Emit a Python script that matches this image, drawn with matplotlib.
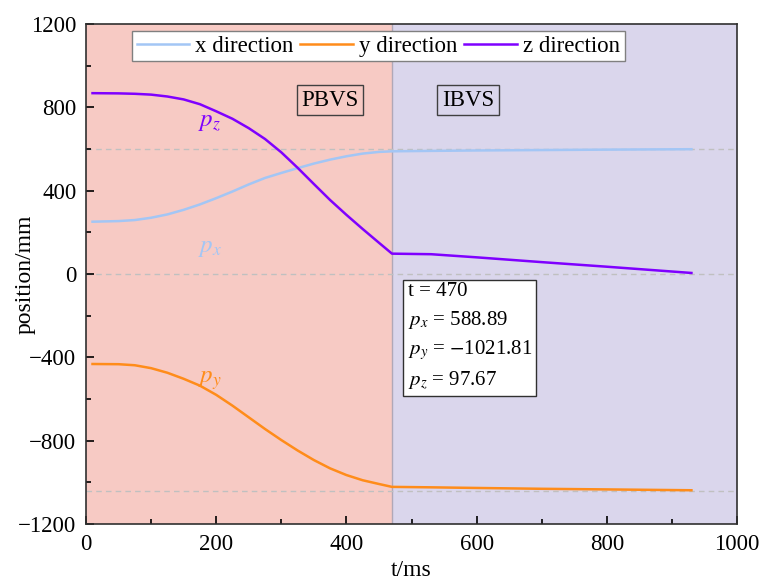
import matplotlib
matplotlib.use("Agg")
import matplotlib.pyplot as plt
from matplotlib.ticker import MultipleLocator

plt.rcParams['font.family'] = ['Liberation Serif', 'DejaVu Serif']
plt.rcParams['mathtext.fontset'] = 'stix'

# values
t_ms = [10, 50, 75, 100, 125, 150, 175, 200, 225, 250, 275, 300, 325, 350, 375,
        400, 425, 450, 470, 530, 600, 700, 800, 930]
x_pos = [251, 254, 259, 270, 286, 308, 334, 364, 396, 430, 461, 485, 508, 530, 549,
         565, 578, 586, 588.89, 591, 593, 595, 597, 599]
y_pos = [-432, -433, -438, -452, -474, -503, -536, -580, -632, -688, -744, -797, -847, -893, -933,
         -965, -990, -1008, -1021.81, -1024, -1027, -1031, -1034, -1038]
z_pos = [868, 867, 865, 861, 852, 838, 815, 781, 745, 700, 648, 584, 510, 432, 355,
         284, 216, 150, 97.67, 95, 80, 57, 35, 5]

t_switch = 470
ref_levels = [600, 0, -1040]

c_x = '#a3c6f5'
c_y = '#ff8c1a'
c_z = '#7f00ff'
bg_pbvs = '#f7cac4'
bg_ibvs = '#dad6ec'

fig = plt.figure(figsize=(7.61, 5.81), dpi=100)
ax = fig.add_axes([86/761, 1-524/581, (737-86)/761, (524-24)/581])

ax.axvspan(0, t_switch, color=bg_pbvs, lw=0, zorder=0)
ax.axvspan(t_switch, 1000, color=bg_ibvs, lw=0, zorder=0)
ax.axvline(t_switch, color='#b0a8b8', lw=1, zorder=1)
for lv in ref_levels:
    ax.axhline(lv, color='#c0c0c0', lw=1, ls=(0, (4, 3)), zorder=1)

ax.plot(t_ms, x_pos, color=c_x, lw=1.8, label='x direction', zorder=3)
ax.plot(t_ms, y_pos, color=c_y, lw=1.8, label='y direction', zorder=3)
ax.plot(t_ms, z_pos, color=c_z, lw=1.8, label='z direction', zorder=3)

ax.text(190, 730, r'$p_z$', color=c_z, fontsize=18, ha='center', va='center')
ax.text(190, 125, r'$p_x$', color=c_x, fontsize=18, ha='center', va='center')
ax.text(190, -513, r'$p_y$', color=c_y, fontsize=18, ha='center', va='center')

ax.text(375, 835, 'PBVS', fontsize=16.5, ha='center', va='center',
        bbox=dict(boxstyle='square,pad=0.2', fc=bg_pbvs, ec='#404040', lw=1))
ax.text(587, 835, 'IBVS', fontsize=16.5, ha='center', va='center',
        bbox=dict(boxstyle='square,pad=0.2', fc=bg_ibvs, ec='#404040', lw=1))

info = ('t = 470\n'
        r'$p_x$ = 588.89' '\n'
        r'$p_y$ = $-$1021.81' '\n'
        r'$p_z$ = 97.67')
ax.text(494, -40, info, fontsize=15, ha='left', va='top', linespacing=1.45,
        bbox=dict(boxstyle='square,pad=0.2', fc='white', ec='#303030', lw=1))

ax.set_xlim(0, 1000)
ax.set_ylim(-1200, 1200)
ax.xaxis.set_major_locator(MultipleLocator(200))
ax.xaxis.set_minor_locator(MultipleLocator(100))
ax.yaxis.set_major_locator(MultipleLocator(400))
ax.yaxis.set_minor_locator(MultipleLocator(200))
ax.tick_params(which='both', direction='in', top=False, right=False, labelsize=16.5, width=1.2)
ax.tick_params(which='major', length=6, pad=7)
ax.tick_params(which='minor', length=3.5)
for s in ax.spines.values():
    s.set_linewidth(1.2)
    s.set_color('#303030')

ax.set_xlabel('t/ms', fontsize=17)
ax.set_ylabel('position/mm', fontsize=17)
ax.xaxis.set_label_coords(0.5, -0.072)
ax.yaxis.set_label_coords(-0.077, 0.5)

leg = ax.legend(loc='upper center', bbox_to_anchor=(0.449, 0.986), ncol=3, fontsize=16.5,
                frameon=True, fancybox=False, framealpha=1, edgecolor='#808080',
                handlelength=2.3, handletextpad=0.26, columnspacing=0.3,
                borderpad=0.2, borderaxespad=0.0)
leg.get_frame().set_linewidth(1)

fig.savefig('out.png', dpi=100)
